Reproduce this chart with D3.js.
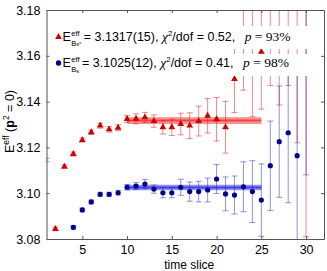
<!DOCTYPE html>
<html>
<meta charset="UTF-8">
<style>
body { margin: 0; background: #fff; }
svg { font-family: "Liberation Sans", Arial, sans-serif; }
.tick text { font-size: 12.5px; fill: #000; }
</style>
<body>
<svg width="327" height="271"></svg>
<script src="https://d3js.org/d3.v7.min.js"></script>
<script>
// B_s* (red triangles)
var redT   = [2, 3, 4, 5, 6, 7, 8, 9, 10, 11, 12, 13, 14, 15, 16, 17, 18, 19, 20, 21, 22, 23, 24, 25, 26, 27, 28, 29, 30];
var redE   = [3.0844, 3.1116, 3.1171, 3.1232, 3.1266, 3.1295, 3.1279, 3.1286, 3.1324, 3.1325, 3.1331, 3.1315, 3.1288, 3.1288,
              3.1302, 3.1295, 3.1315, 3.1338, 3.1323, 3.1288, 3.1499, 3.185, 3.170, 3.1617, 3.190, 3.185, 3.195, 3.200, 3.200];
var redErr = [0.0008, 0.0008, 0.0009, 0.0009, 0.0010, 0.0011, 0.0012, 0.0013, 0.0015, 0.0022, 0.0022, 0.0027, 0.0030, 0.0036,
              0.0047, 0.0056, 0.0065, 0.0075, 0.0095, 0.0113, 0.0147, 0.040, 0.0366, 0.025, 0.043, 0.0465, 0.048, 0.078, 0.119];

// B_s (blue circles)
var blueT   = [1, 4, 5, 6, 7, 8, 9, 10, 11, 12, 13, 14, 15, 16, 17, 18, 19, 20, 21, 22, 23, 24, 25, 26, 27, 28, 29, 30];
var blueE   = [3.1145, 3.0851, 3.0927, 3.0962, 3.0995, 3.0995, 3.1002, 3.1026, 3.1031, 3.1040, 3.1018, 3.1002, 3.1002, 3.1026,
               3.1007, 3.1007, 3.1014, 3.1062, 3.0997, 3.0992, 3.1028, 3.1007, 3.0970, 3.1120, 3.1225, 3.1264, 3.1164, 3.190];
var blueErr = [0.0007, 0.0008, 0.0008, 0.0008, 0.0009, 0.0009, 0.0010, 0.0012, 0.0015, 0.0020, 0.0018, 0.0022, 0.0022, 0.0035,
               0.0042, 0.0045, 0.0052, 0.0063, 0.0074, 0.0083, 0.0109, 0.0135, 0.0158, 0.0195, 0.0243, 0.0306, 0.040, 0.082];

// plateau fits: [value, error], fit range
var redFit = [3.1317, 0.0015];
var blueFit = [3.1025, 0.0012];
var fitRange = [10, 25];

var xTicks = [5, 10, 15, 20, 25, 30];
var yTicks = [3.08, 3.10, 3.12, 3.14, 3.16, 3.18];

var margin = {top: 10, right: 3, bottom: 32, left: 46.5},
    width = 327 - margin.left - margin.right,
    height = 271 - margin.top - margin.bottom;

var x = d3.scaleLinear().domain([1, 32]).range([0, width]);
var y = d3.scaleLinear().domain([3.08, 3.18]).range([height, 0]);

var svg = d3.select("svg")
  .append("g")
    .attr("transform", "translate(" + margin.left + "," + margin.top + ")");

svg.append("clipPath").attr("id", "clip")
  .append("rect").attr("width", width).attr("height", height);

var plot = svg.append("g").attr("clip-path", "url(#clip)");

function series(t, e, err) {
  return t.map(function(d, i) { return {t: d, e: e[i], err: err[i]}; });
}
var red = series(redT, redE, redErr);
var blue = series(blueT, blueE, blueErr);

// fit bands
function band(fit, col) {
  plot.append("rect")
    .attr("x", x(fitRange[0]))
    .attr("width", x(fitRange[1]) - x(fitRange[0]))
    .attr("y", y(fit[0] + fit[1]))
    .attr("height", y(fit[0] - fit[1]) - y(fit[0] + fit[1]))
    .attr("fill", col).attr("opacity", 0.45);
  plot.append("line")
    .attr("x1", x(fitRange[0])).attr("x2", x(fitRange[1]))
    .attr("y1", y(fit[0])).attr("y2", y(fit[0]))
    .attr("stroke", col).attr("stroke-width", 2).attr("opacity", 0.6);
}
band(redFit, "#f01010");
band(blueFit, "#1010e0");

// error bars
function errbars(data, col) {
  var g = plot.append("g").attr("stroke", col).attr("stroke-width", 1).attr("fill", "none");
  data.forEach(function(d) {
    var cx = x(d.t), y1 = y(d.e + d.err), y2 = y(d.e - d.err);
    g.append("line").attr("x1", cx).attr("x2", cx).attr("y1", y1).attr("y2", y2);
    g.append("line").attr("x1", cx - 3).attr("x2", cx + 3).attr("y1", y1).attr("y2", y1);
    g.append("line").attr("x1", cx - 3).attr("x2", cx + 3).attr("y1", y2).attr("y2", y2);
  });
}
errbars(red, "rgba(225,40,40,0.55)");
errbars(blue, "rgba(40,40,190,0.5)");

plot.selectAll(".tri").data(red).enter().append("path")
  .attr("d", d3.symbol(d3.symbolTriangle, 20))
  .attr("transform", function(d) { return "translate(" + x(d.t) + "," + y(d.e) + ")"; })
  .attr("fill", "#cc0000");

plot.selectAll(".dot").data(blue.slice(1)).enter().append("circle")
  .attr("cx", function(d) { return x(d.t); })
  .attr("cy", function(d) { return y(d.e); })
  .attr("r", 2.6)
  .attr("fill", "#000090");

// legend boxes (white, covering the bars)
svg.append("rect").attr("x", 6).attr("y", 16).attr("width", 266).attr("height", 23).attr("fill", "#fff");
svg.append("rect").attr("x", 6).attr("y", 44).attr("width", 266).attr("height", 22).attr("fill", "#fff");

function legendRow(yy, sym, col, sub, txt) {
  var g = svg.append("g");
  g.append("path")
    .attr("d", d3.symbol(sym, sym === d3.symbolTriangle ? 20 : 22))
    .attr("transform", "translate(12," + (yy - 4) + ")")
    .attr("fill", col);
  var x0 = 16;
  var e = g.append("text").attr("x", x0).attr("y", yy).attr("font-size", 12.5).text("E");
  var ew = e.node().getComputedTextLength();
  var sp = g.append("text").attr("x", x0 + ew + 0.5).attr("y", yy - 5).attr("font-size", 7.5).text("eff");
  var sb = g.append("text").attr("x", x0 + ew + 0.5).attr("y", yy + 4.5).attr("font-size", 7.5);
  sb.append("tspan").text("B");
  sb.append("tspan").attr("dy", sub === "s" ? 1.5 : 0).attr("font-size", 5.5).text(sub);
  var sw = Math.max(sp.node().getComputedTextLength(), sb.node().getComputedTextLength());
  var t = g.append("text").attr("x", x0 + ew + sw + 3).attr("y", yy).attr("font-size", 12.5);
  t.append("tspan").text("= " + txt[0] + ", ");
  t.append("tspan").attr("font-family", "Liberation Serif").attr("font-style", "italic").attr("font-size", 13.5).text("χ");
  t.append("tspan").attr("dy", -5).attr("font-size", 8).text("2");
  t.append("tspan").attr("dy", 5).text("/dof = " + txt[1] + ",  ");
  t.append("tspan").attr("dx", 6).attr("font-family", "Liberation Serif").attr("font-style", "italic").attr("font-size", 13.5).text("p");
  t.append("tspan").attr("font-family", "Liberation Serif").attr("font-size", 13.5).text(" = " + txt[2]);
}
legendRow(31, d3.symbolTriangle, "#cc0000", "s*", ["3.1317(15)", "0.52", "93%"]);
legendRow(57, d3.symbolCircle, "#000090", "s", ["3.1025(12)", "0.41", "98%"]);

// axes (box with inward ticks)
var axCol = "#555";
svg.append("g").attr("transform", "translate(0," + height + ")")
  .call(d3.axisBottom(x).tickValues(xTicks).tickSizeInner(-3).tickSizeOuter(0).tickPadding(6))
  .call(function(g) { g.select(".domain").attr("stroke", axCol); g.selectAll("line").attr("stroke", axCol); });
svg.append("g")
  .call(d3.axisTop(x).tickValues(xTicks).tickSizeInner(-3).tickSizeOuter(0).tickFormat(""))
  .call(function(g) { g.select(".domain").attr("stroke", axCol); g.selectAll("line").attr("stroke", axCol); });
svg.append("g")
  .call(d3.axisLeft(y).tickValues(yTicks).tickFormat(d3.format(".2f")).tickSizeInner(-3).tickSizeOuter(0).tickPadding(6))
  .call(function(g) { g.select(".domain").attr("stroke", axCol); g.selectAll("line").attr("stroke", axCol); });
svg.append("g").attr("transform", "translate(" + width + ",0)")
  .call(d3.axisRight(y).tickValues(yTicks).tickSizeInner(-3).tickSizeOuter(0).tickFormat(""))
  .call(function(g) { g.select(".domain").attr("stroke", axCol); g.selectAll("line").attr("stroke", axCol); });

// axis labels
svg.append("text")
  .attr("x", width / 2 + 4).attr("y", height + 30)
  .attr("text-anchor", "middle").attr("font-size", 12)
  .text("time slice");

var yl = svg.append("text")
  .attr("transform", "translate(-33," + (height / 2 - 3) + ") rotate(-90)")
  .attr("text-anchor", "middle").attr("font-size", 12.5);
yl.append("tspan").text("E");
yl.append("tspan").attr("dy", -5).attr("font-size", 8.5).text("eff");
yl.append("tspan").attr("dy", 5).text(" (");
yl.append("tspan").attr("font-weight", "bold").text("p");
yl.append("tspan").attr("dy", -5).attr("font-size", 8.5).text("2");
yl.append("tspan").attr("dy", 5).text(" = 0)");
</script>
</body>
</html>
